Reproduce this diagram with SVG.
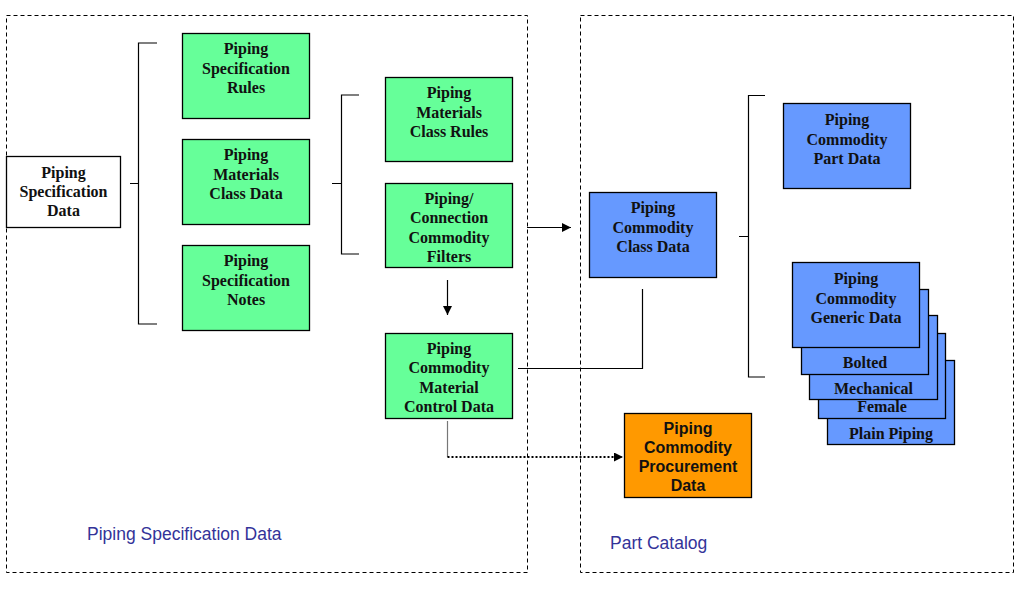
<svg xmlns="http://www.w3.org/2000/svg" width="1031" height="590" viewBox="0 0 1031 590">
<defs>
<style>
.frame{fill:none;stroke:#000;stroke-width:1;stroke-dasharray:4,3}
.box{stroke:#000;stroke-width:1.3}
.g{fill:#66FF99}
.b{fill:#6699FF}
.w{fill:#FFFFFF}
.o{fill:#FF9900}
.t{font-family:"Liberation Serif","Times New Roman",serif;font-weight:bold;font-size:16px;fill:#111;text-anchor:middle}
.ta{font-family:"Liberation Sans",Arial,sans-serif;font-weight:bold;font-size:16px;fill:#111;text-anchor:middle}
.lbl{font-family:"Liberation Sans",Arial,sans-serif;font-size:17.5px;fill:#333399}
.ln{fill:none;stroke:#000;stroke-width:1.2}
</style>
<marker id="arr" viewBox="0 0 10 10" refX="10" refY="5" markerWidth="9" markerHeight="9" markerUnits="userSpaceOnUse" orient="auto">
<path d="M0,0 L10,5 L0,10 z" fill="#000"/>
</marker>
</defs>
<rect width="1031" height="590" fill="#fff"/>

<g id="frames">
<rect class="frame" x="6.5" y="15.5" width="521" height="557"/>
<rect class="frame" x="580.5" y="15.5" width="433" height="557"/>
<text class="lbl" x="87" y="540">Piping Specification Data</text>
<text class="lbl" x="610" y="549">Part Catalog</text>
</g>

<g id="connectors">
<path class="ln" d="M130,183.5 H138.5 M157,43 H138.5 V324 H157"/>
<path class="ln" d="M332,183.5 H341.5 M359,95 H341.5 V254 H359"/>
<path class="ln" d="M739,236.5 H748.5 M765,95.5 H748.5 V377 H765"/>
<path class="ln" d="M527,227.5 H571" marker-end="url(#arr)"/>
<path class="ln" d="M447.5,280 V315" marker-end="url(#arr)"/>
<path class="ln" d="M518,368.5 H642.5 V289"/>
<path d="M447.5,421 V457" fill="none" stroke="#777" stroke-width="1.2"/>
<path d="M447.5,457 H623" fill="none" stroke="#000" stroke-width="2" stroke-dasharray="2,2" marker-end="url(#arr)"/>
</g>

<g id="n-spec-data">
<rect class="box w" x="6.5" y="156.5" width="114" height="71"/>
<text class="t" x="63.5" y="178">Piping</text>
<text class="t" x="63.5" y="197">Specification</text>
<text class="t" x="63.5" y="216">Data</text>
</g>

<g id="n-spec-rules">
<rect class="box g" x="182.5" y="33.5" width="127" height="85"/>
<text class="t" x="246" y="54">Piping</text>
<text class="t" x="246" y="73.5">Specification</text>
<text class="t" x="246" y="93">Rules</text>
</g>

<g id="n-mat-class-data">
<rect class="box g" x="182.5" y="139.5" width="127" height="85"/>
<text class="t" x="246" y="160">Piping</text>
<text class="t" x="246" y="179.5">Materials</text>
<text class="t" x="246" y="199">Class Data</text>
</g>

<g id="n-spec-notes">
<rect class="box g" x="182.5" y="245.5" width="127" height="85"/>
<text class="t" x="246" y="266">Piping</text>
<text class="t" x="246" y="285.5">Specification</text>
<text class="t" x="246" y="305">Notes</text>
</g>

<g id="n-mat-class-rules">
<rect class="box g" x="385.5" y="77.5" width="127" height="84"/>
<text class="t" x="449" y="98">Piping</text>
<text class="t" x="449" y="117.5">Materials</text>
<text class="t" x="449" y="137">Class Rules</text>
</g>

<g id="n-filters">
<rect class="box g" x="385.5" y="183.5" width="127" height="84"/>
<text class="t" x="449" y="204">Piping/</text>
<text class="t" x="449" y="223.3">Connection</text>
<text class="t" x="449" y="242.6">Commodity</text>
<text class="t" x="449" y="262">Filters</text>
</g>

<g id="n-control-data">
<rect class="box g" x="385.5" y="333.5" width="127" height="85"/>
<text class="t" x="449" y="354">Piping</text>
<text class="t" x="449" y="373.3">Commodity</text>
<text class="t" x="449" y="392.6">Material</text>
<text class="t" x="449" y="412">Control Data</text>
</g>

<g id="n-class-data">
<rect class="box b" x="589.5" y="192.5" width="127" height="85"/>
<text class="t" x="653" y="213">Piping</text>
<text class="t" x="653" y="232.5">Commodity</text>
<text class="t" x="653" y="252">Class Data</text>
</g>

<g id="n-part-data">
<rect class="box b" x="783.5" y="103.5" width="127" height="85"/>
<text class="t" x="847" y="125">Piping</text>
<text class="t" x="847" y="144.5">Commodity</text>
<text class="t" x="847" y="164">Part Data</text>
</g>

<g id="n-plain-piping">
<rect class="box b" x="827.5" y="360.5" width="127" height="84"/>
<text class="t" x="891" y="439">Plain Piping</text>
</g>
<g id="n-female">
<rect class="box b" x="818.5" y="333.5" width="127" height="85"/>
<text class="t" x="882" y="412">Female</text>
</g>
<g id="n-mechanical">
<rect class="box b" x="809.5" y="315.5" width="128" height="84"/>
<text class="t" x="873.5" y="394">Mechanical</text>
</g>
<g id="n-bolted">
<rect class="box b" x="801.5" y="289.5" width="127" height="85"/>
<text class="t" x="865" y="367.5">Bolted</text>
</g>
<g id="n-generic-data">
<rect class="box b" x="792.5" y="262.5" width="127" height="85"/>
<text class="t" x="856" y="284">Piping</text>
<text class="t" x="856" y="303.5">Commodity</text>
<text class="t" x="856" y="323">Generic Data</text>
</g>

<g id="n-procurement">
<rect class="box o" x="624.5" y="413.5" width="127" height="84"/>
<text class="ta" x="688" y="434">Piping</text>
<text class="ta" x="688" y="453">Commodity</text>
<text class="ta" x="688" y="472">Procurement</text>
<text class="ta" x="688" y="491">Data</text>
</g>
</svg>
